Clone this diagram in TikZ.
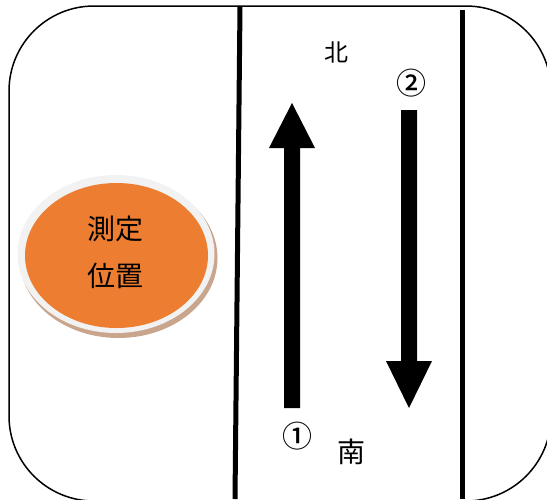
\documentclass[tikz,border=0pt]{standalone}
\usepackage{fontspec}
\newfontfamily\jp{Noto Sans CJK JP}
\newfontfamily\jpb{Noto Sans CJK JP Medium}
\definecolor{orng}{HTML}{ED7D31}
\definecolor{ring}{HTML}{F2F2F2}
\definecolor{shad}{HTML}{C9A58E}
\begin{document}
\begin{tikzpicture}[x=1pt,y=-1pt,
  lbl/.style={inner sep=0pt, font=\jp},
  road/.style={line width=5pt},
  arrowbody/.style={fill=black, draw=none}]
\useasboundingbox (0,0) rectangle (547,499);
\begin{scope}
\clip (0,0) rectangle (547,499);
\draw[line width=1.5pt, rounded corners=85pt] (9,6) rectangle (551,501);
\end{scope}
% road lines
\coordinate (l1) at (240,6);
\coordinate (l2) at (235,499);
\coordinate (r1) at (462,10);
\coordinate (r2) at (462,499);
\draw[road] (l1) -- (l2);
\draw[road] (r1) -- (r2);
% up arrow
\fill[arrowbody] (284,408) -- (284,148) -- (269,148) -- (292,103) -- (315,148) -- (300,148) -- (300,408) -- cycle;
% down arrow
\fill[arrowbody] (401,110) -- (401,361) -- (386,361) -- (409,408) -- (432,361) -- (417,361) -- (417,110) -- cycle;
% measurement position
\fill[shad] (118.5,258) ellipse [x radius=99, y radius=80];
\fill[ring] (116,254) ellipse [x radius=98.5, y radius=79];
\fill[orng] (116.5,255.5) ellipse [x radius=91.5, y radius=72.5];
\node[lbl, font=\jp\fontsize{28}{34}\selectfont] (t1) at (115,228.5) {測定};
\node[lbl, font=\jp\fontsize{28}{34}\selectfont] (t2) at (115,275.5) {位置};
% labels
\node[lbl, font=\jp\fontsize{24}{28}\selectfont] (north) at (336,52.5) {北};
\node[lbl, font=\jp\fontsize{28}{32}\selectfont] (south) at (351.5,451.5) {南};
\node[lbl, font=\jpb\fontsize{30}{32}\selectfont] (one) at (297.5,436) {①};
\node[lbl, font=\jpb\fontsize{30}{32}\selectfont] (two) at (411.5,83.5) {②};
\end{tikzpicture}
\end{document}
